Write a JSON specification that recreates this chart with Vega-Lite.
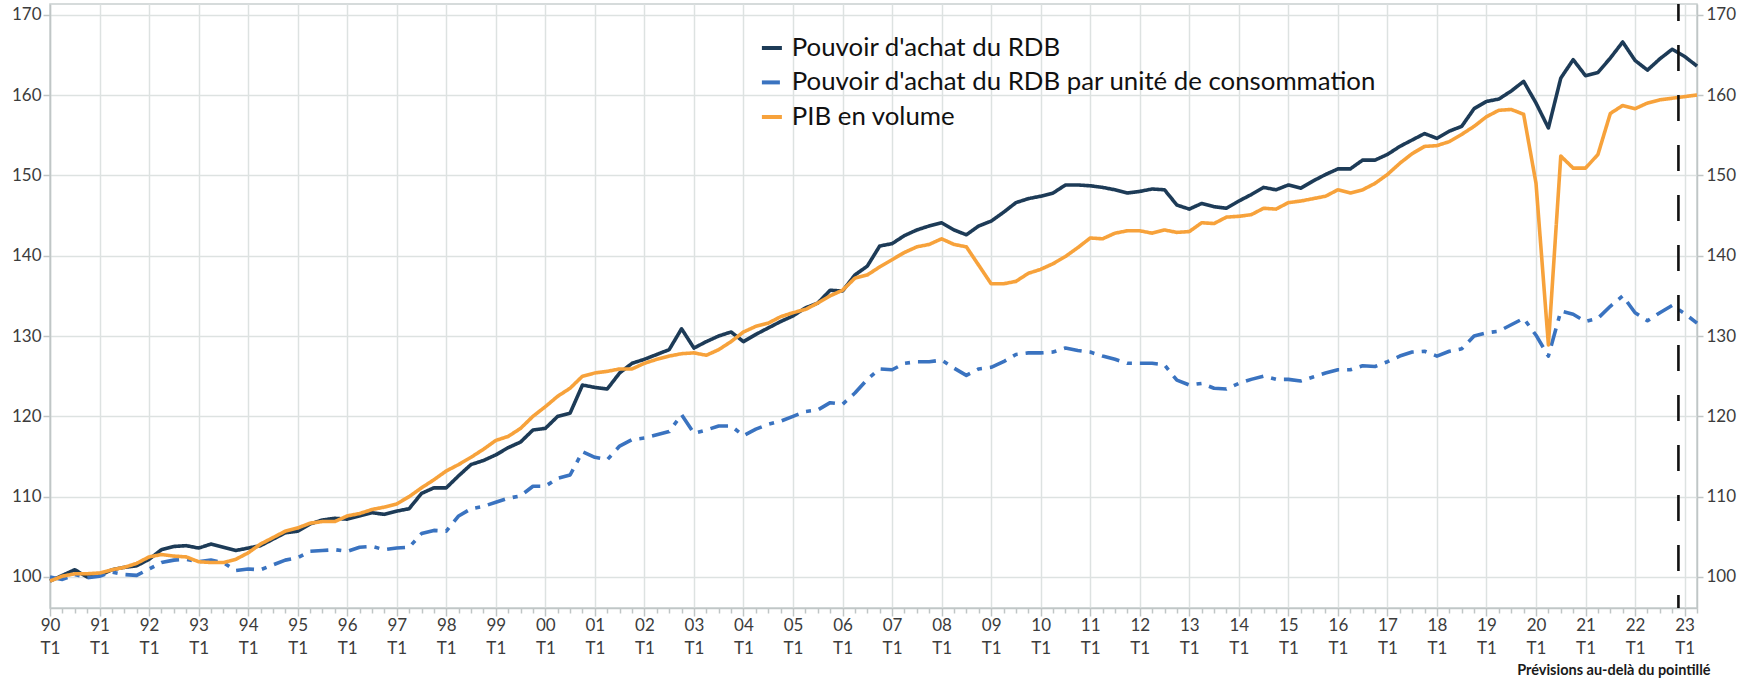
{
  "$schema": "https://vega.github.io/schema/vega-lite/v6.json",
  "width": 1647,
  "height": 604,
  "autosize": "none",
  "padding": {"left": 50, "top": 4, "right": 57, "bottom": 72},
  "background": "white",
  "config": {
    "font": "Lato",
    "view": {"stroke": "#c9cfcf", "strokeWidth": 1.5}
  },
  "data": {"values": [
    {"t":1990.00,"rdb":99.5,"uc":100.0,"pib":99.5},
    {"t":1990.25,"rdb":100.2,"uc":99.7,"pib":100.1},
    {"t":1990.50,"rdb":100.9,"uc":100.3,"pib":100.4},
    {"t":1990.75,"rdb":100.0,"uc":99.9,"pib":100.4},
    {"t":1991.00,"rdb":100.2,"uc":100.1,"pib":100.5},
    {"t":1991.25,"rdb":100.9,"uc":100.6,"pib":100.9},
    {"t":1991.50,"rdb":101.2,"uc":100.3,"pib":101.2},
    {"t":1991.75,"rdb":101.4,"uc":100.2,"pib":101.7},
    {"t":1992.00,"rdb":102.2,"uc":101.0,"pib":102.5},
    {"t":1992.25,"rdb":103.4,"uc":101.8,"pib":102.8},
    {"t":1992.50,"rdb":103.8,"uc":102.1,"pib":102.6},
    {"t":1992.75,"rdb":103.9,"uc":102.2,"pib":102.5},
    {"t":1993.00,"rdb":103.6,"uc":101.9,"pib":101.9},
    {"t":1993.25,"rdb":104.1,"uc":102.1,"pib":101.8},
    {"t":1993.50,"rdb":103.7,"uc":101.8,"pib":101.8},
    {"t":1993.75,"rdb":103.3,"uc":100.8,"pib":102.2},
    {"t":1994.00,"rdb":103.6,"uc":101.0,"pib":103.0},
    {"t":1994.25,"rdb":103.9,"uc":100.9,"pib":104.1},
    {"t":1994.50,"rdb":104.7,"uc":101.5,"pib":104.9},
    {"t":1994.75,"rdb":105.5,"uc":102.1,"pib":105.7},
    {"t":1995.00,"rdb":105.7,"uc":102.4,"pib":106.1},
    {"t":1995.25,"rdb":106.6,"uc":103.2,"pib":106.7},
    {"t":1995.50,"rdb":107.1,"uc":103.3,"pib":106.9},
    {"t":1995.75,"rdb":107.3,"uc":103.4,"pib":106.9},
    {"t":1996.00,"rdb":107.2,"uc":103.2,"pib":107.6},
    {"t":1996.25,"rdb":107.6,"uc":103.7,"pib":107.9},
    {"t":1996.50,"rdb":108.0,"uc":103.8,"pib":108.4},
    {"t":1996.75,"rdb":107.8,"uc":103.4,"pib":108.7},
    {"t":1997.00,"rdb":108.2,"uc":103.6,"pib":109.1},
    {"t":1997.25,"rdb":108.5,"uc":103.7,"pib":110.0},
    {"t":1997.50,"rdb":110.4,"uc":105.4,"pib":111.1},
    {"t":1997.75,"rdb":111.1,"uc":105.8,"pib":112.1},
    {"t":1998.00,"rdb":111.1,"uc":105.7,"pib":113.2},
    {"t":1998.25,"rdb":112.6,"uc":107.6,"pib":114.0},
    {"t":1998.50,"rdb":114.0,"uc":108.5,"pib":114.9},
    {"t":1998.75,"rdb":114.5,"uc":108.8,"pib":115.9},
    {"t":1999.00,"rdb":115.2,"uc":109.3,"pib":117.0},
    {"t":1999.25,"rdb":116.1,"uc":109.8,"pib":117.5},
    {"t":1999.50,"rdb":116.8,"uc":110.1,"pib":118.5},
    {"t":1999.75,"rdb":118.3,"uc":111.3,"pib":120.0},
    {"t":2000.00,"rdb":118.5,"uc":111.3,"pib":121.2},
    {"t":2000.25,"rdb":120.0,"uc":112.3,"pib":122.5},
    {"t":2000.50,"rdb":120.4,"uc":112.7,"pib":123.5},
    {"t":2000.75,"rdb":123.9,"uc":115.6,"pib":125.0},
    {"t":2001.00,"rdb":123.6,"uc":114.9,"pib":125.4},
    {"t":2001.25,"rdb":123.4,"uc":114.6,"pib":125.6},
    {"t":2001.50,"rdb":125.4,"uc":116.3,"pib":125.9},
    {"t":2001.75,"rdb":126.6,"uc":117.1,"pib":125.9},
    {"t":2002.00,"rdb":127.1,"uc":117.3,"pib":126.6},
    {"t":2002.25,"rdb":127.7,"uc":117.7,"pib":127.1},
    {"t":2002.50,"rdb":128.3,"uc":118.1,"pib":127.5},
    {"t":2002.75,"rdb":130.9,"uc":120.2,"pib":127.8},
    {"t":2003.00,"rdb":128.5,"uc":117.9,"pib":127.9},
    {"t":2003.25,"rdb":129.3,"uc":118.3,"pib":127.6},
    {"t":2003.50,"rdb":130.0,"uc":118.8,"pib":128.3},
    {"t":2003.75,"rdb":130.5,"uc":118.8,"pib":129.3},
    {"t":2004.00,"rdb":129.3,"uc":117.6,"pib":130.5},
    {"t":2004.25,"rdb":130.2,"uc":118.4,"pib":131.2},
    {"t":2004.50,"rdb":131.0,"uc":119.0,"pib":131.6},
    {"t":2004.75,"rdb":131.8,"uc":119.4,"pib":132.4},
    {"t":2005.00,"rdb":132.5,"uc":120.0,"pib":132.9},
    {"t":2005.25,"rdb":133.5,"uc":120.6,"pib":133.3},
    {"t":2005.50,"rdb":134.1,"uc":120.8,"pib":134.1},
    {"t":2005.75,"rdb":135.7,"uc":121.7,"pib":135.0},
    {"t":2006.00,"rdb":135.6,"uc":121.5,"pib":135.7},
    {"t":2006.25,"rdb":137.6,"uc":122.9,"pib":137.2},
    {"t":2006.50,"rdb":138.7,"uc":124.6,"pib":137.6},
    {"t":2006.75,"rdb":141.2,"uc":125.9,"pib":138.6},
    {"t":2007.00,"rdb":141.5,"uc":125.8,"pib":139.5},
    {"t":2007.25,"rdb":142.5,"uc":126.6,"pib":140.4},
    {"t":2007.50,"rdb":143.2,"uc":126.8,"pib":141.1},
    {"t":2007.75,"rdb":143.7,"uc":126.8,"pib":141.4},
    {"t":2008.00,"rdb":144.1,"uc":127.0,"pib":142.1},
    {"t":2008.25,"rdb":143.2,"uc":126.0,"pib":141.4},
    {"t":2008.50,"rdb":142.6,"uc":125.1,"pib":141.1},
    {"t":2008.75,"rdb":143.7,"uc":125.9,"pib":138.8},
    {"t":2009.00,"rdb":144.3,"uc":126.1,"pib":136.5},
    {"t":2009.25,"rdb":145.4,"uc":126.8,"pib":136.5},
    {"t":2009.50,"rdb":146.6,"uc":127.7,"pib":136.8},
    {"t":2009.75,"rdb":147.1,"uc":127.9,"pib":137.8},
    {"t":2010.00,"rdb":147.4,"uc":127.9,"pib":138.3},
    {"t":2010.25,"rdb":147.8,"uc":128.0,"pib":139.0},
    {"t":2010.50,"rdb":148.8,"uc":128.5,"pib":139.9},
    {"t":2010.75,"rdb":148.8,"uc":128.2,"pib":141.0},
    {"t":2011.00,"rdb":148.7,"uc":128.0,"pib":142.2},
    {"t":2011.25,"rdb":148.5,"uc":127.5,"pib":142.1},
    {"t":2011.50,"rdb":148.2,"uc":127.1,"pib":142.8},
    {"t":2011.75,"rdb":147.8,"uc":126.6,"pib":143.1},
    {"t":2012.00,"rdb":148.0,"uc":126.6,"pib":143.1},
    {"t":2012.25,"rdb":148.3,"uc":126.6,"pib":142.8},
    {"t":2012.50,"rdb":148.2,"uc":126.4,"pib":143.2},
    {"t":2012.75,"rdb":146.3,"uc":124.5,"pib":142.9},
    {"t":2013.00,"rdb":145.8,"uc":123.9,"pib":143.0},
    {"t":2013.25,"rdb":146.5,"uc":124.1,"pib":144.1},
    {"t":2013.50,"rdb":146.1,"uc":123.5,"pib":144.0},
    {"t":2013.75,"rdb":145.9,"uc":123.4,"pib":144.8},
    {"t":2014.00,"rdb":146.8,"uc":124.1,"pib":144.9},
    {"t":2014.25,"rdb":147.6,"uc":124.6,"pib":145.1},
    {"t":2014.50,"rdb":148.5,"uc":125.0,"pib":145.9},
    {"t":2014.75,"rdb":148.2,"uc":124.6,"pib":145.8},
    {"t":2015.00,"rdb":148.8,"uc":124.6,"pib":146.6},
    {"t":2015.25,"rdb":148.4,"uc":124.4,"pib":146.8},
    {"t":2015.50,"rdb":149.3,"uc":124.9,"pib":147.1},
    {"t":2015.75,"rdb":150.1,"uc":125.4,"pib":147.4},
    {"t":2016.00,"rdb":150.8,"uc":125.8,"pib":148.2},
    {"t":2016.25,"rdb":150.8,"uc":125.8,"pib":147.8},
    {"t":2016.50,"rdb":151.9,"uc":126.3,"pib":148.2},
    {"t":2016.75,"rdb":151.9,"uc":126.2,"pib":149.0},
    {"t":2017.00,"rdb":152.6,"uc":126.8,"pib":150.1},
    {"t":2017.25,"rdb":153.6,"uc":127.5,"pib":151.5},
    {"t":2017.50,"rdb":154.4,"uc":128.0,"pib":152.7},
    {"t":2017.75,"rdb":155.2,"uc":128.1,"pib":153.6},
    {"t":2018.00,"rdb":154.6,"uc":127.5,"pib":153.7},
    {"t":2018.25,"rdb":155.5,"uc":128.1,"pib":154.2},
    {"t":2018.50,"rdb":156.1,"uc":128.4,"pib":155.1},
    {"t":2018.75,"rdb":158.3,"uc":130.0,"pib":156.1},
    {"t":2019.00,"rdb":159.2,"uc":130.4,"pib":157.3},
    {"t":2019.25,"rdb":159.5,"uc":130.6,"pib":158.1},
    {"t":2019.50,"rdb":160.5,"uc":131.4,"pib":158.2},
    {"t":2019.75,"rdb":161.7,"uc":132.2,"pib":157.6},
    {"t":2020.00,"rdb":159.0,"uc":130.1,"pib":149.0},
    {"t":2020.25,"rdb":155.9,"uc":127.5,"pib":128.9},
    {"t":2020.50,"rdb":162.1,"uc":133.1,"pib":152.4},
    {"t":2020.75,"rdb":164.4,"uc":132.7,"pib":150.9},
    {"t":2021.00,"rdb":162.4,"uc":131.8,"pib":150.9},
    {"t":2021.25,"rdb":162.8,"uc":132.2,"pib":152.6},
    {"t":2021.50,"rdb":164.6,"uc":133.7,"pib":157.7},
    {"t":2021.75,"rdb":166.6,"uc":135.0,"pib":158.7},
    {"t":2022.00,"rdb":164.3,"uc":132.9,"pib":158.3},
    {"t":2022.25,"rdb":163.1,"uc":131.9,"pib":159.0},
    {"t":2022.50,"rdb":164.5,"uc":132.9,"pib":159.4},
    {"t":2022.75,"rdb":165.7,"uc":133.8,"pib":159.6},
    {"t":2023.00,"rdb":164.8,"uc":132.8,"pib":159.8},
    {"t":2023.25,"rdb":163.6,"uc":131.6,"pib":160.0}
  ]},
  "resolve": {"axis": {"x": "independent", "y": "independent"}},
  "layer": [
    {
      "transform": [{"fold": ["rdb", "uc", "pib"], "as": ["s", "v"]}],
      "mark": {"type": "line", "strokeWidth": 3.6, "strokeJoin": "round"},
      "encoding": {
        "x": {
          "field": "t", "type": "quantitative",
          "scale": {"domain": [1990, 2023.25], "nice": false, "zero": false},
          "axis": {
            "orient": "bottom",
            "values": [1990,1991,1992,1993,1994,1995,1996,1997,1998,1999,2000,2001,2002,2003,2004,2005,2006,2007,2008,2009,2010,2011,2012,2013,2014,2015,2016,2017,2018,2019,2020,2021,2022,2023],
            "format": "d",
            "labelExpr": "[substring(datum.label, 2, 4), 'T1']",
            "labelFontSize": 17, "labelColor": "#3c3c3c", "labelLineHeight": 23,
            "labelPadding": 1, "labelFlush": false, "labelOverlap": false,
            "tickSize": 8, "tickColor": "#c0c6c6", "tickWidth": 1.5,
            "domainColor": "#c0c6c6", "domainWidth": 1.5,
            "grid": true, "gridColor": "#dde2e1", "gridWidth": 1.5,
            "title": "Prévisions au-delà du pointillé",
            "titleX": 1660, "titleY": 62, "titleAlign": "right", "titleBaseline": "middle",
            "titleFontSize": 14.5, "titleFontWeight": "bold", "titleColor": "#1a1a1a"
          }
        },
        "y": {
          "field": "v", "type": "quantitative",
          "scale": {"domain": [96.14, 171.33], "nice": false, "zero": false},
          "axis": {
            "orient": "left", "values": [100,110,120,130,140,150,160,170], "title": null,
            "labelFontSize": 17, "labelColor": "#3c3c3c", "labelPadding": 2,
            "tickSize": 7, "tickColor": "#c0c6c6", "tickWidth": 1.5,
            "domainColor": "#c0c6c6", "domainWidth": 1.5,
            "grid": true, "gridColor": "#dde2e1", "gridWidth": 1.5
          }
        },
        "color": {
          "field": "s", "type": "nominal",
          "scale": {"domain": ["rdb", "uc", "pib"], "range": ["#1d3b57", "#3a73c0", "#f7a23b"]},
          "legend": {
            "orient": "none", "legendX": 709, "legendY": 31, "title": null,
            "labelExpr": "datum.value == 'rdb' ? \"Pouvoir d'achat du RDB\" : datum.value == 'uc' ? \"Pouvoir d'achat du RDB par unité de consommation\" : 'PIB en volume'",
            "labelFontSize": 25.8, "labelColor": "#111111", "labelOffset": 7, "labelLimit": 800,
            "symbolType": "stroke", "symbolSize": 400, "symbolStrokeWidth": 4, "rowPadding": 7.5
          }
        },
        "strokeDash": {
          "field": "s", "type": "nominal",
          "scale": {"domain": ["rdb", "uc", "pib"], "range": [[1, 0], [18, 8, 5, 8], [1, 0]]},
          "legend": {
            "orient": "none", "legendX": 709, "legendY": 31, "title": null,
            "labelExpr": "datum.value == 'rdb' ? \"Pouvoir d'achat du RDB\" : datum.value == 'uc' ? \"Pouvoir d'achat du RDB par unité de consommation\" : 'PIB en volume'",
            "labelFontSize": 25.8, "labelColor": "#111111", "labelOffset": 7, "labelLimit": 800,
            "symbolType": "stroke", "symbolSize": 400, "symbolStrokeWidth": 4, "rowPadding": 7.5
          }
        }
      }
    },
    {
      "data": {"values": [{"t": 2022.875}]},
      "mark": {"type": "rule", "color": "#111111", "strokeWidth": 2.6, "strokeDash": [26, 24], "strokeDashOffset": 9},
      "encoding": {
        "x": {
          "field": "t", "type": "quantitative",
          "axis": {
            "orient": "bottom",
            "values": [1990.25,1990.5,1990.75,1991.25,1991.5,1991.75,1992.25,1992.5,1992.75,1993.25,1993.5,1993.75,1994.25,1994.5,1994.75,1995.25,1995.5,1995.75,1996.25,1996.5,1996.75,1997.25,1997.5,1997.75,1998.25,1998.5,1998.75,1999.25,1999.5,1999.75,2000.25,2000.5,2000.75,2001.25,2001.5,2001.75,2002.25,2002.5,2002.75,2003.25,2003.5,2003.75,2004.25,2004.5,2004.75,2005.25,2005.5,2005.75,2006.25,2006.5,2006.75,2007.25,2007.5,2007.75,2008.25,2008.5,2008.75,2009.25,2009.5,2009.75,2010.25,2010.5,2010.75,2011.25,2011.5,2011.75,2012.25,2012.5,2012.75,2013.25,2013.5,2013.75,2014.25,2014.5,2014.75,2015.25,2015.5,2015.75,2016.25,2016.5,2016.75,2017.25,2017.5,2017.75,2018.25,2018.5,2018.75,2019.25,2019.5,2019.75,2020.25,2020.5,2020.75,2021.25,2021.5,2021.75,2022.25,2022.5,2022.75,2023.25],
            "labels": false, "grid": false, "domain": false, "title": null,
            "tickSize": 5, "tickColor": "#c0c6c6", "tickWidth": 1.5
          }
        }
      }
    },
    {
      "transform": [{"fold": ["rdb", "uc", "pib"], "as": ["s", "v"]}],
      "mark": {"type": "line", "opacity": 0},
      "encoding": {
        "x": {"field": "t", "type": "quantitative", "axis": null},
        "y": {
          "field": "v", "type": "quantitative",
          "axis": {
            "orient": "right", "values": [100,110,120,130,140,150,160,170], "title": null,
            "labelFontSize": 17, "labelColor": "#3c3c3c", "labelPadding": 3,
            "tickSize": 6, "tickColor": "#c0c6c6", "tickWidth": 1.5,
            "domainColor": "#c0c6c6", "domainWidth": 1.5, "grid": false
          }
        },
        "detail": {"field": "s", "type": "nominal"}
      }
    }
  ]
}
